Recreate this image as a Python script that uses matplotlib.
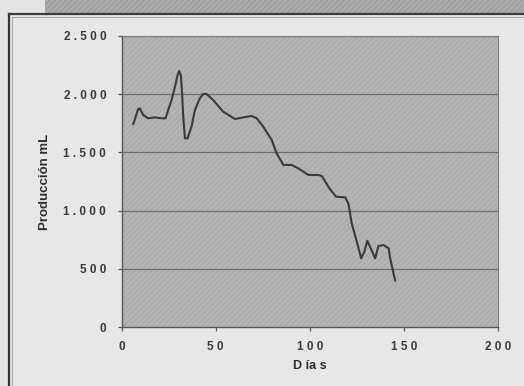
import matplotlib
matplotlib.use("Agg")
import matplotlib.pyplot as plt
from matplotlib.patches import Rectangle
from matplotlib.lines import Line2D
from matplotlib.ticker import FixedLocator, FixedFormatter

# Daily milk production (mL) over the lactation period
dias = [6.2, 8.8, 9.7, 11.5, 14.1, 17.7, 21.3, 23.4, 24.8, 26.6, 28.4, 29.8,
        30.6, 31.5, 32.2, 32.8, 33.7, 35.1, 37.2, 39.0, 41.6, 43.4, 45.2, 48.7,
        54.0, 60.3, 64.7, 69.1, 71.8, 75.3, 79.8, 82.4, 86.0, 90.4, 93.9, 99.3,
        104.6, 106.4, 110.4, 114.0, 118.8, 120.5, 122.3, 125.0, 127.3, 129.0,
        130.6, 132.4, 134.7, 136.5, 139.2, 141.9, 142.7, 144.1, 145.4]
produccion = [1741, 1870, 1879, 1821, 1793, 1801, 1793, 1793, 1864, 1950, 2064, 2165,
              2199, 2165, 2008, 1807, 1621, 1621, 1721, 1864, 1965, 2002, 2002, 1950,
              1850, 1787, 1801, 1813, 1793, 1721, 1607, 1492, 1392, 1392, 1363, 1306,
              1306, 1297, 1192, 1119, 1114, 1063, 891, 733, 590, 647,
              741, 676, 590, 696, 704, 676, 590, 490, 398]

x_ticks = [0, 50, 100, 150, 200]
x_labels = ["0", "5 0", "1 0 0", "1 5 0", "2 0 0"]
y_ticks = [0, 500, 1000, 1500, 2000, 2500]
y_labels = ["0", "5 0 0", "1 . 0 0 0", "1 . 5 0 0", "2 . 0 0 0", "2 . 5 0 0"]

plt.rcParams["font.family"] = ["Liberation Sans", "DejaVu Sans"]
plt.rcParams["hatch.linewidth"] = 0.6

W, H = 524, 386
fig = plt.figure(figsize=(W / 100, H / 100), dpi=100)
fig.patch.set_facecolor("#e3e3e3")

def fx(px):
    return px / W

def fy(py):
    return 1 - py / H

# Hatched strip along the top edge
fig.patches.append(Rectangle((fx(45), fy(13)), fx(W - 45), 13 / H,
                             transform=fig.transFigure, facecolor="#ababab",
                             edgecolor="#949494", hatch="//////", linewidth=0,
                             zorder=-3))
# Chart frame panel
fig.patches.append(Rectangle((fx(9), 0), fx(W - 9), fy(14),
                             transform=fig.transFigure, facecolor="#e7e7e7",
                             edgecolor="none", zorder=-3))
fig.lines.append(Line2D([fx(9), fx(9)], [0, fy(14)], transform=fig.transFigure,
                        color="#3a3333", linewidth=1.6, zorder=-2))
fig.lines.append(Line2D([fx(9), 1], [fy(14), fy(14)], transform=fig.transFigure,
                        color="#3a3a3a", linewidth=1.6, zorder=-2))
fig.lines.append(Line2D([fx(11.5), fx(11.5)], [0, fy(16.5)], transform=fig.transFigure,
                        color="#9a9a9a", linewidth=0.6, zorder=-2))
fig.lines.append(Line2D([fx(11.5), 1], [fy(16.5), fy(16.5)], transform=fig.transFigure,
                        color="#9a9a9a", linewidth=0.6, zorder=-2))

ax = fig.add_axes([fx(121.5), fy(327), fx(498 - 121.5), (327 - 36) / H])
ax.set_facecolor("#b4b4b4")
ax.add_patch(Rectangle((0, 0), 1, 1, transform=ax.transAxes, facecolor="none",
                       edgecolor="#a6a6a6", hatch="//////", linewidth=0, zorder=0))

ax.set_xlim(0, 200)
ax.set_ylim(0, 2500)

for v in y_ticks[1:]:
    ax.axhline(v, color="#6e6e6e", linewidth=0.9, zorder=1)

ax.plot(dias, produccion, color="#3a3a3a", linewidth=1.5, zorder=3,
        solid_joinstyle="round", solid_capstyle="round")

for side in ("top", "right"):
    ax.spines[side].set_color("#7a7a7a")
    ax.spines[side].set_linestyle((0, (1, 1)))
    ax.spines[side].set_linewidth(0.8)
ax.spines["left"].set_color("#555555")
ax.spines["bottom"].set_color("#555555")
ax.spines["left"].set_linewidth(1.0)
ax.spines["bottom"].set_linewidth(1.0)

ax.xaxis.set_major_locator(FixedLocator(x_ticks))
ax.xaxis.set_major_formatter(FixedFormatter(x_labels))
ax.yaxis.set_major_locator(FixedLocator(y_ticks))
ax.yaxis.set_major_formatter(FixedFormatter(y_labels))
ax.tick_params(axis="both", direction="out", length=3, width=0.9,
               color="#555555", labelsize=8.5, labelcolor="#3a3a3a")
ax.tick_params(axis="y", pad=8)
ax.tick_params(axis="x", pad=7)
for lbl in ax.get_xticklabels() + ax.get_yticklabels():
    lbl.set_fontweight("bold")

ax.set_xlabel("D ía s", fontsize=9, fontweight="bold", color="#2e2e2e", labelpad=5)
ax.set_ylabel("Producción mL", fontsize=9.5, fontweight="bold", color="#2e2e2e",
              labelpad=9)

fig.savefig("out.png", dpi=100, facecolor=fig.get_facecolor())
